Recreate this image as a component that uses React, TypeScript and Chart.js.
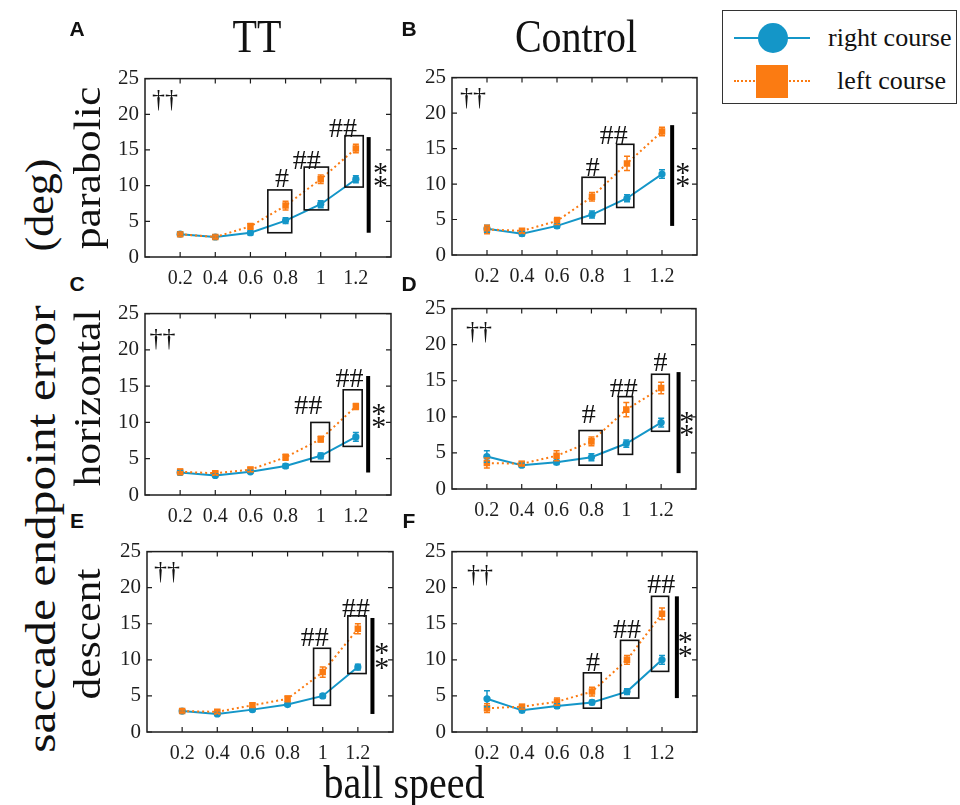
import React, { useEffect, useRef } from "react";
import { Chart, registerables } from "chart.js";
Chart.register(...registerables);

// ---------- data ----------
const speeds = [0.2, 0.4, 0.6, 0.8, 1.0, 1.2];
const xTickValues = [0.2, 0.4, 0.6, 0.8, 1, 1.2];
const yTickValues = [0, 5, 10, 15, 20, 25];

// A: TT parabolic
const A_right = [3.2, 2.8, 3.4, 5.1, 7.4, 10.9];
const A_left = [3.2, 2.8, 4.3, 7.2, 10.9, 15.2];
const A_rightErr = [0.3, 0.2, 0.3, 0.4, 0.5, 0.5];
const A_leftErr = [0.3, 0.2, 0.4, 0.6, 0.6, 0.6];
// B: Control parabolic
const B_right = [3.7, 3.0, 4.1, 5.7, 8.0, 11.4];
const B_left = [3.6, 3.4, 4.8, 8.2, 12.9, 17.4];
const B_rightErr = [0.5, 0.3, 0.3, 0.5, 0.5, 0.6];
const B_leftErr = [0.6, 0.3, 0.5, 0.6, 1.0, 0.6];
// C: TT horizontal
const C_right = [3.1, 2.7, 3.2, 4.0, 5.4, 8.0];
const C_left = [3.2, 3.0, 3.5, 5.2, 7.7, 12.2];
const C_rightErr = [0.3, 0.2, 0.2, 0.3, 0.4, 0.6];
const C_leftErr = [0.4, 0.2, 0.3, 0.4, 0.4, 0.4];
// D: Control horizontal
const D_right = [4.5, 3.3, 3.7, 4.4, 6.3, 9.2];
const D_left = [3.6, 3.5, 4.6, 6.6, 11.0, 14.0];
const D_rightErr = [0.8, 0.3, 0.3, 0.5, 0.5, 0.6];
const D_leftErr = [0.7, 0.3, 0.7, 0.6, 1.0, 0.8];
// E: TT descent
const E_right = [2.9, 2.5, 3.1, 3.8, 5.0, 9.0];
const E_left = [2.9, 2.8, 3.7, 4.6, 8.3, 14.3];
const E_rightErr = [0.2, 0.2, 0.2, 0.2, 0.3, 0.4];
const E_leftErr = [0.2, 0.2, 0.3, 0.4, 0.7, 0.7];
// F: Control descent
const F_right = [4.6, 3.0, 3.6, 4.1, 5.6, 10.0];
const F_left = [3.3, 3.5, 4.2, 5.6, 10.0, 16.4];
const F_rightErr = [1.1, 0.3, 0.3, 0.3, 0.4, 0.6];
const F_leftErr = [0.6, 0.3, 0.5, 0.6, 0.6, 0.8];

// annotations (data coordinates): boxes [xCenter, halfWidth, yLow, yHigh]
const A_boxes = [[0.767, 0.068, 3.4, 9.4], [0.975, 0.069, 6.6, 12.6], [1.19, 0.052, 9.8, 17.0]];
const B_boxes = [[0.809, 0.066, 4.4, 10.95], [0.99, 0.049, 6.7, 15.6]];
const C_boxes = [[0.997, 0.053, 4.6, 10.0], [1.182, 0.054, 6.7, 14.5]];
const D_boxes = [[0.795, 0.066, 3.3, 8.1], [0.995, 0.041, 4.8, 12.8], [1.196, 0.051, 8.0, 15.9]];
const E_boxes = [[0.996, 0.048, 3.7, 11.6], [1.195, 0.052, 8.1, 16.1]];
const F_boxes = [[0.802, 0.051, 3.3, 8.2], [1.015, 0.052, 4.7, 12.7], [1.189, 0.049, 8.4, 18.8]];
// hash marks [label, x, y]
const A_hashes = [["#", 0.78, 10.8], ["##", 0.92, 13.4], ["##", 1.127, 17.9]];
const B_hashes = [["#", 0.804, 12.2], ["##", 0.924, 16.65]];
const C_hashes = [["##", 0.929, 12.2], ["##", 1.164, 15.9]];
const D_hashes = [["#", 0.784, 10.1], ["##", 0.985, 13.8], ["#", 1.196, 17.4]];
const E_hashes = [["##", 0.955, 12.9], ["##", 1.19, 16.9]];
const F_hashes = [["#", 0.805, 9.5], ["##", 1.0, 14.1], ["##", 1.196, 20.3]];
// significance bar [x, yLow, yHigh] and stars [x, y1, y2]
const A_bar = [1.273, 3.4, 16.8]; const A_stars = [1.34, 12.5, 10.6];
const B_bar = [1.258, 4.1, 18.3]; const B_stars = [1.319, 12.2, 10.4];
const C_bar = [1.27, 3.1, 16.4]; const C_stars = [1.33, 11.9, 10.0];
const D_bar = [1.30, 2.2, 16.2]; const D_stars = [1.347, 10.0, 8.2];
const E_bar = [1.283, 2.5, 15.8]; const E_stars = [1.336, 11.6, 9.5];
const F_bar = [1.285, 4.7, 18.8]; const F_stars = [1.333, 13.1, 11.2];
// dagger position [x, y]
const A_dagger = [0.114, 22.0]; const B_dagger = [0.12, 22.1];
const C_dagger = [0.10, 21.5]; const D_dagger = [0.155, 21.7];
const E_dagger = [0.114, 22.2]; const F_dagger = [0.16, 21.7];

const seriesNames = ["right course", "left course"];

// ---------- style ----------
const BLUE = "#1496c8";
const ORANGE = "#fb7b12";
const INK = "#1e1e1e";
const SERIF = "'Liberation Serif', 'Times New Roman', serif";

const PAD_L = 45, PAD_T = 12, PAD_R = 20, PAD_B = 36;

type Spec = {
  L: number; T: number; R: number; B: number;
  right: number[]; left: number[]; rightErr: number[]; leftErr: number[];
  boxes: number[][]; hashes: any[][]; bar: number[]; stars: number[]; dagger: number[];
};

const panels: Spec[] = [
  { L: 145, T: 72, R: 391, B: 257, right: A_right, left: A_left, rightErr: A_rightErr, leftErr: A_leftErr, boxes: A_boxes, hashes: A_hashes, bar: A_bar, stars: A_stars, dagger: A_dagger },
  { L: 452, T: 71, R: 697, B: 255, right: B_right, left: B_left, rightErr: B_rightErr, leftErr: B_leftErr, boxes: B_boxes, hashes: B_hashes, bar: B_bar, stars: B_stars, dagger: B_dagger },
  { L: 145, T: 307, R: 391, B: 495, right: C_right, left: C_left, rightErr: C_rightErr, leftErr: C_leftErr, boxes: C_boxes, hashes: C_hashes, bar: C_bar, stars: C_stars, dagger: C_dagger },
  { L: 452, T: 302, R: 696, B: 489, right: D_right, left: D_left, rightErr: D_rightErr, leftErr: D_leftErr, boxes: D_boxes, hashes: D_hashes, bar: D_bar, stars: D_stars, dagger: D_dagger },
  { L: 147, T: 545, R: 393, B: 732, right: E_right, left: E_left, rightErr: E_rightErr, leftErr: E_leftErr, boxes: E_boxes, hashes: E_hashes, bar: E_bar, stars: E_stars, dagger: E_dagger },
  { L: 452, T: 545, R: 697, B: 732, right: F_right, left: F_left, rightErr: F_rightErr, leftErr: F_leftErr, boxes: F_boxes, hashes: F_hashes, bar: F_bar, stars: F_stars, dagger: F_dagger },
];

function Panel({ spec }: { spec: Spec }) {
  const ref = useRef<HTMLCanvasElement>(null);
  const w = spec.R - spec.L + PAD_L + PAD_R;
  const h = spec.B - spec.T + PAD_T + PAD_B;

  useEffect(() => {
    if (!ref.current) return;
    const annot = {
      id: "annot",
      afterDatasetsDraw(chart: any) {
        const { ctx, scales } = chart;
        const xs = scales.x, ys = scales.y;
        ctx.save();
        ctx.lineWidth = 1.5;
        const sets: [number[], number[], string][] = [
          [spec.right, spec.rightErr, BLUE],
          [spec.left, spec.leftErr, ORANGE],
        ];
        sets.forEach(([vals, errs, col]) => {
          ctx.strokeStyle = col;
          vals.forEach((v, i) => {
            const px = xs.getPixelForValue(speeds[i]);
            const y1 = ys.getPixelForValue(v - errs[i]);
            const y2 = ys.getPixelForValue(v + errs[i]);
            ctx.beginPath();
            ctx.moveTo(px, y1); ctx.lineTo(px, y2);
            ctx.moveTo(px - 3, y1); ctx.lineTo(px + 3, y1);
            ctx.moveTo(px - 3, y2); ctx.lineTo(px + 3, y2);
            ctx.stroke();
          });
        });
        ctx.restore();
      },
      afterDraw(chart: any) {
        const { ctx, chartArea: a, scales } = chart;
        const xs = scales.x, ys = scales.y;
        const X = (v: number) => xs.getPixelForValue(v);
        const Y = (v: number) => ys.getPixelForValue(v);
        ctx.save();
        // frame
        ctx.strokeStyle = INK;
        ctx.lineWidth = 1.5;
        ctx.strokeRect(a.left, a.top, a.right - a.left, a.bottom - a.top);
        // inward ticks
        ctx.lineWidth = 1.2;
        ctx.beginPath();
        xTickValues.forEach((v) => {
          const p = X(v);
          ctx.moveTo(p, a.bottom); ctx.lineTo(p, a.bottom - 5);
          ctx.moveTo(p, a.top); ctx.lineTo(p, a.top + 5);
        });
        yTickValues.forEach((v) => {
          const p = Y(v);
          ctx.moveTo(a.left, p); ctx.lineTo(a.left + 5, p);
          ctx.moveTo(a.right, p); ctx.lineTo(a.right - 5, p);
        });
        ctx.stroke();
        // boxes
        ctx.lineWidth = 1.6;
        ctx.strokeStyle = "#111";
        spec.boxes.forEach(([xc, hw, lo, hi]) => {
          const x1 = X(xc - hw), x2 = X(xc + hw);
          const y1 = Y(hi), y2 = Y(lo);
          ctx.strokeRect(x1, y1, x2 - x1, y2 - y1);
        });
        // bar
        ctx.fillStyle = "#000";
        const [bx, blo, bhi] = spec.bar;
        ctx.fillRect(X(bx) - 2, Y(bhi), 4, Y(blo) - Y(bhi));
        // text marks
        ctx.fillStyle = "#111";
        ctx.textAlign = "center";
        ctx.textBaseline = "middle";
        ctx.font = `28px ${SERIF}`;
        spec.hashes.forEach(([lab, hx, hy]) => {
          ctx.fillText(lab, X(hx), Y(hy));
        });
        ctx.font = `30px ${SERIF}`;
        const [sx, s1, s2] = spec.stars;
        ctx.fillText("*", X(sx), Y(s1) + 6);
        ctx.fillText("*", X(sx), Y(s2) + 6);
        ctx.font = `26px ${SERIF}`;
        ctx.fillText("\u2020\u2020", X(spec.dagger[0]), Y(spec.dagger[1]));
        ctx.restore();
      },
    };

    const chart = new Chart(ref.current, {
      type: "line",
      data: {
        datasets: [
          {
            label: seriesNames[0],
            data: speeds.map((x, i) => ({ x, y: spec.right[i] })),
            borderColor: BLUE,
            backgroundColor: BLUE,
            borderWidth: 2,
            pointStyle: "circle",
            pointRadius: 3.6,
            pointBorderWidth: 0,
            tension: 0,
            order: 1,
          },
          {
            label: seriesNames[1],
            data: speeds.map((x, i) => ({ x, y: spec.left[i] })),
            borderColor: ORANGE,
            backgroundColor: ORANGE,
            borderWidth: 2,
            borderDash: [2, 3],
            pointStyle: "rect",
            pointRadius: 4.6,
            pointBorderWidth: 0,
            tension: 0,
            order: 0,
          },
        ],
      },
      options: {
        responsive: false,
        maintainAspectRatio: false,
        animation: false,
        events: [],
        layout: { padding: { top: PAD_T, right: PAD_R, left: 0, bottom: 0 } },
        plugins: { legend: { display: false }, tooltip: { enabled: false } },
        scales: {
          x: {
            type: "linear",
            min: 0,
            max: 1.4,
            afterBuildTicks: (s: any) => { s.ticks = xTickValues.map((v) => ({ value: v })); },
            afterFit: (s: any) => { s.height = PAD_B; },
            grid: { display: false, drawTicks: false },
            border: { display: false },
            ticks: {
              autoSkip: false,
              maxRotation: 0,
              padding: 10,
              color: INK,
              font: { family: SERIF, size: 20 },
              callback: (v: any) => String(v),
            },
          },
          y: {
            type: "linear",
            min: 0,
            max: 25,
            afterBuildTicks: (s: any) => { s.ticks = yTickValues.map((v) => ({ value: v })); },
            afterFit: (s: any) => { s.width = PAD_L; },
            grid: { display: false, drawTicks: false },
            border: { display: false },
            ticks: {
              padding: 6,
              color: INK,
              font: { family: SERIF, size: 21 },
              callback: (v: any) => String(v),
            },
          },
        },
      },
      plugins: [annot],
    } as any);
    return () => chart.destroy();
  }, [spec]);

  return (
    <canvas
      ref={ref}
      width={w}
      height={h}
      style={{ position: "absolute", left: spec.L - PAD_L, top: spec.T - PAD_T, width: w, height: h }}
    />
  );
}

function Txt({ x, y, text, size, rot = false, bold = false, sans = false, sy = 1 }: any) {
  const tf = rot
    ? `translate(-50%, -50%) scaleY(${sy}) rotate(-90deg)`
    : `translate(-50%, -50%) scaleY(${sy})`;
  return (
    <div
      style={{
        position: "absolute",
        left: x,
        top: y,
        transform: tf,
        whiteSpace: "nowrap",
        fontFamily: sans ? "'Liberation Sans', Arial, sans-serif" : SERIF,
        fontWeight: bold ? 700 : 400,
        fontSize: size,
        lineHeight: 1,
        color: "#111",
      }}
    >
      {text}
    </div>
  );
}

export default function App() {
  return (
    <div style={{ position: "absolute", left: 0, top: 0, width: 960, height: 805, background: "#fff", overflow: "hidden" }}>
      {panels.map((p, i) => (
        <Panel key={i} spec={p} />
      ))}
      {/* column titles */}
      <Txt x={257} y={37} text="TT" size={40} sy={1.15} />
      <Txt x={576} y={37} text="Control" size={40} sy={1.15} />
      {/* panel letters */}
      <Txt x={77} y={28} text="A" size={21} bold sans />
      <Txt x={409} y={28} text="B" size={21} bold sans />
      <Txt x={77} y={283} text="C" size={21} bold sans />
      <Txt x={409} y={283} text="D" size={21} bold sans />
      <Txt x={77} y={520} text="E" size={21} bold sans />
      <Txt x={409} y={520} text="F" size={21} bold sans />
      {/* row labels */}
      <Txt x={87} y={168} text="parabolic" size={38} rot sy={1.15} />
      <Txt x={87} y={398} text="horizontal" size={38} rot sy={1.15} />
      <Txt x={87} y={634} text="descent" size={38} rot sy={1.15} />
      <Txt x={40} y={529} text="saccade endpoint error" size={43} rot sy={1.15} />
      <Txt x={40} y={205} text="(deg)" size={40} rot sy={1.1} />
      {/* x axis title */}
      <Txt x={404} y={783} text="ball speed" size={40} sy={1.15} />
      {/* legend */}
      <div style={{ position: "absolute", left: 722, top: 10, width: 235, height: 94, border: "1.5px solid #333", boxSizing: "border-box" }}>
        <div style={{ position: "absolute", left: 11, top: 26, width: 76, height: 2, background: BLUE }} />
        <div style={{ position: "absolute", left: 35, top: 12, width: 30, height: 30, borderRadius: "50%", background: BLUE }} />
        <div style={{ position: "absolute", left: 11, top: 69, width: 76, height: 0, borderTop: `2px dotted ${ORANGE}` }} />
        <div style={{ position: "absolute", left: 33, top: 54, width: 32, height: 33, background: ORANGE }} />
        <div style={{ position: "absolute", left: 105, top: 12, fontFamily: SERIF, fontSize: 26, lineHeight: "30px", color: "#111", whiteSpace: "nowrap" }}>{seriesNames[0]}</div>
        <div style={{ position: "absolute", left: 114, top: 55, fontFamily: SERIF, fontSize: 26, lineHeight: "30px", color: "#111", whiteSpace: "nowrap" }}>{seriesNames[1]}</div>
      </div>
    </div>
  );
}
